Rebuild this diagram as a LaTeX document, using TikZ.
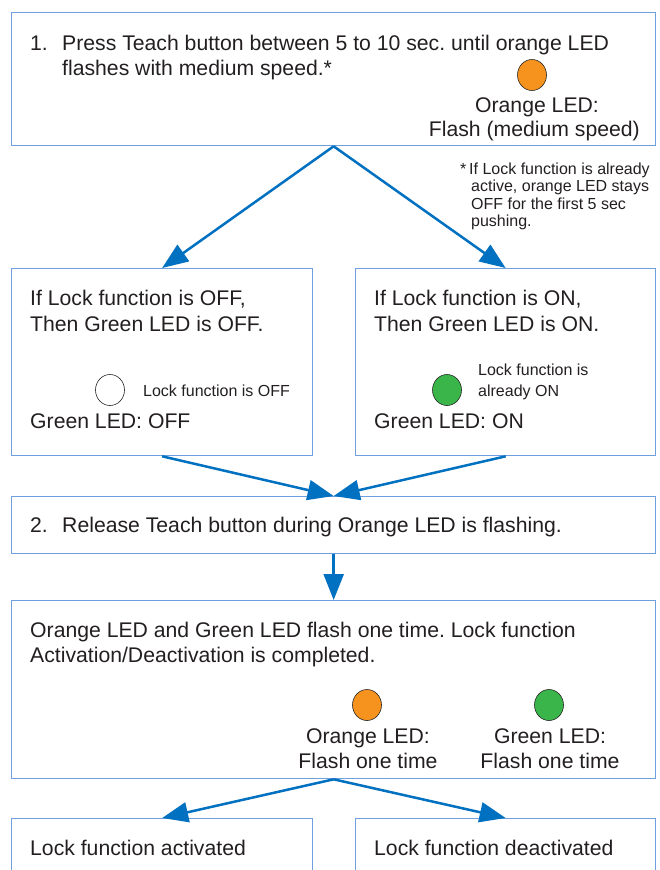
\documentclass[tikz,border=0pt]{standalone}
\usepackage{fontspec}
\setmainfont{Liberation Sans}
\usetikzlibrary{shapes.geometric, arrows.meta}
\definecolor{boxblue}{RGB}{111,160,221}
\definecolor{arrowblue}{RGB}{0,112,192}
\definecolor{ledorange}{RGB}{246,146,30}
\definecolor{ledgreen}{RGB}{57,181,74}
\definecolor{txtgray}{RGB}{35,31,32}
\frenchspacing
\tikzstyle{stepbox} = [rectangle, 
draw=boxblue, 
line width=1.3pt, 
anchor=north west, 
inner sep=0pt]
\tikzstyle{txt} = [anchor=base west, 
inner sep=0pt, 
text=txtgray, 
font=\fontsize{21.2}{26}\selectfont]
\tikzstyle{note} = [anchor=base west, 
inner sep=0pt, 
text=txtgray, 
font=\fontsize{16}{18}\selectfont]
\tikzstyle{led} = [ellipse, 
draw=black!85, 
line width=0.6pt, 
minimum width=29pt, 
minimum height=31pt, 
inner sep=0pt]
\tikzstyle{arrow} = [line width=2.5pt, draw=arrowblue, -{Triangle[length=26pt,width=20pt]}]

\begin{document}
\begin{tikzpicture}[x=1pt, y=-1pt]
\useasboundingbox (0,0) rectangle (659,870);
\clip (0,0) rectangle (659,870);

% boxes
\node (press) [stepbox, minimum width=644pt, minimum height=133pt] at (11,12) {};
\node (lockoff) [stepbox, minimum width=301pt, minimum height=187pt] at (11,268) {};
\node (lockon) [stepbox, minimum width=300pt, minimum height=187pt] at (355,268) {};
\node (release) [stepbox, minimum width=644pt, minimum height=57pt] at (11,496) {};
\node (flashonce) [stepbox, minimum width=644pt, minimum height=178pt] at (11,600) {};
\node (activated) [stepbox, minimum width=301pt, minimum height=90pt] at (11,818) {};
\node (deactivated) [stepbox, minimum width=300pt, minimum height=90pt] at (355,818) {};

% step 1
\node (num1) [txt] at (30,50) {1.};
\node (press1) [txt] at (62,50) {Press Teach button between 5 to 10 sec. until orange LED};
\node (press2) [txt] at (62,75) {flashes with medium speed.*};
\node (ledorange1) [led, fill=ledorange] at (532,75) {};
\node (orangelbl1) [txt, anchor=base] at (537,112) {Orange LED:};
\node (orangelbl2) [txt, anchor=base east] at (640,136) {Flash (medium speed)};

% footnote
\node (star) [note] at (460,174) {*};
\node (fn1) [note] at (469,174) {If Lock function is already};
\node (fn2) [note] at (471,191.5) {active, orange LED stays};
\node (fn3) [note] at (471,209) {OFF for the first 5 sec};
\node (fn4) [note] at (471,226.5) {pushing.};

% lock off
\node (off1) [txt] at (30,305) {If Lock function is OFF,};
\node (off2) [txt] at (30,331) {Then Green LED is OFF.};
\node (ledoff) [led, fill=white] at (110,390) {};
\node (offnote) [note] at (143,396) {Lock function is OFF};
\node (offlbl) [txt] at (30,428) {Green LED: OFF};

% lock on
\node (on1) [txt] at (374,305) {If Lock function is ON,};
\node (on2) [txt] at (374,331) {Then Green LED is ON.};
\node (ledon) [led, fill=ledgreen] at (447,390) {};
\node (onnote1) [note] at (478,375) {Lock function is};
\node (onnote2) [note] at (478,396) {already ON};
\node (onlbl) [txt] at (374,428) {Green LED: ON};

% step 2
\node (num2) [txt] at (30,532) {2.};
\node (release1) [txt] at (62,532) {Release Teach button during Orange LED is flashing.};

% flash once
\node (done1) [txt] at (30,637) {Orange LED and Green LED flash one time. Lock function};
\node (done2) [txt] at (30,662) {Activation/Deactivation is completed.};
\node (ledorange2) [led, fill=ledorange] at (367,705) {};
\node (ledgreen2) [led, fill=ledgreen] at (549,705) {};
\node (orangelbl3) [txt, anchor=base] at (368,743) {Orange LED:};
\node (orangelbl4) [txt, anchor=base] at (368,768) {Flash one time};
\node (greenlbl1) [txt, anchor=base] at (550,743) {Green LED:};
\node (greenlbl2) [txt, anchor=base] at (550,768) {Flash one time};

% results
\node (act) [txt] at (30,855) {Lock function activated};
\node (deact) [txt] at (374,855) {Lock function deactivated};

\draw [arrow] (press.south) -- (lockoff.north);
\draw [arrow] (press.south) -- (lockon.north);
\draw [arrow] (lockoff.south) -- (release.north);
\draw [arrow] (lockon.south) -- (release.north);
\draw [arrow] (release.south) -- (flashonce.north);
\draw [arrow] (flashonce.south) -- (activated.north);
\draw [arrow] (flashonce.south) -- (deactivated.north);

\end{tikzpicture}
\end{document}
